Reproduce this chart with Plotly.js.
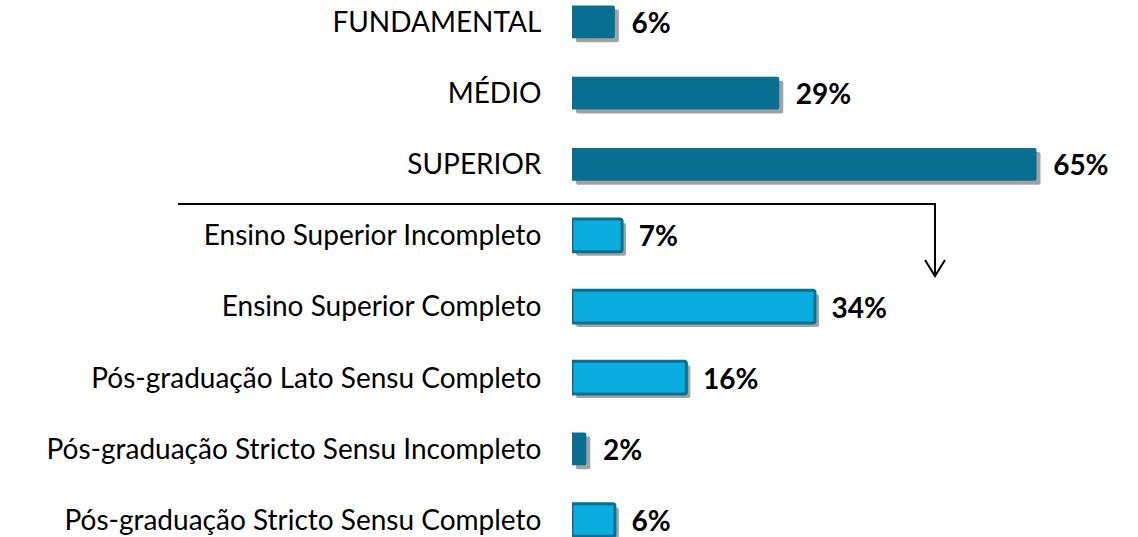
<!DOCTYPE html>
<html>
<head>
<meta charset="utf-8">
<script src="https://cdn.plot.ly/plotly-3.0.1.min.js"></script>
<style>html,body{margin:0;padding:0;background:#fff;}#chart{width:1138px;height:537px;}</style>
</head>
<body>
<div id="chart"></div>
<script>
// Data
var categories = [
  'FUNDAMENTAL',
  'MÉDIO',
  'SUPERIOR',
  'Ensino Superior Incompleto',
  'Ensino Superior Completo',
  'Pós-graduação Lato Sensu Completo',
  'Pós-graduação Stricto Sensu Incompleto',
  'Pós-graduação Stricto Sensu Completo'
];
var values = [6, 29, 65, 7, 34, 16, 2, 6];
var isSub = [false, false, false, true, true, true, false, true];

// Styles
var W = 1138, H = 537, ML = 572;
var dark = '#086F91', light = '#0AAEDE';
var barW = 0.46;
var xMax = 79.2;
var pxPerX = (W - ML) / xMax;
var yRange = [7.239, -0.309];
var pxPerY = H / (yRange[0] - yRange[1]);
var shadowDx = 4 / pxPerX, shadowDy = 4 / pxPerY;
var FONT = 'Lato, sans-serif';

var fills = isSub.map(function(s){ return s ? light : dark; });
var lineW = isSub.map(function(s){ return s ? 3 : 0; });

var shadow = {
  type: 'bar', orientation: 'h',
  y: categories, x: values,
  base: values.map(function(){ return shadowDx; }),
  width: barW, offset: -barW/2 + shadowDy,
  marker: {color: 'rgba(85,85,85,0.55)', line: {width: 0}, cornerradius: 2},
  hoverinfo: 'skip', showlegend: false
};
var main = {
  type: 'bar', orientation: 'h',
  y: categories, x: values,
  width: barW,
  marker: {color: fills, line: {color: dark, width: lineW}, cornerradius: 2},
  texttemplate: '\u00a0\u00a0%{x}%',
  textposition: 'outside',
  constraintext: 'none',
  cliponaxis: false,
  textfont: {family: FONT, size: 28, color: '#000', weight: 'bold'},
  showlegend: false
};

function px2paperX(px){ return (px - ML) / (W - ML); }
function px2paperY(py){ return 1 - py / H; }

var shapes = [
  {type: 'path', xref: 'paper', yref: 'paper',
   path: 'M' + px2paperX(178) + ',' + px2paperY(204) + ' L' + px2paperX(935) + ',' + px2paperY(204) + ' L' + px2paperX(935) + ',' + px2paperY(276),
   line: {color: '#000', width: 2}},
  {type: 'path', xref: 'paper', yref: 'paper',
   path: 'M' + px2paperX(925) + ',' + px2paperY(260) + ' L' + px2paperX(935) + ',' + px2paperY(276) + ' L' + px2paperX(945) + ',' + px2paperY(260),
   line: {color: '#000', width: 2}}
];

var layout = {
  width: W, height: H,
  margin: {l: ML, r: 0, t: 0, b: 0, pad: 0},
  paper_bgcolor: '#fff', plot_bgcolor: '#fff',
  barmode: 'overlay',
  showlegend: false,
  xaxis: {range: [0, xMax], visible: false, fixedrange: true},
  yaxis: {
    type: 'category', range: yRange, autorange: false,
    showgrid: false, zeroline: false, showline: false,
    ticks: 'outside', ticklen: 24, tickcolor: 'rgba(0,0,0,0)',
    tickfont: {family: FONT, size: 28, color: '#000'},
    automargin: false
  },
  shapes: shapes
};

Plotly.newPlot('chart', [shadow, main], layout, {displayModeBar: false, staticPlot: true});
</script>
</body>
</html>
